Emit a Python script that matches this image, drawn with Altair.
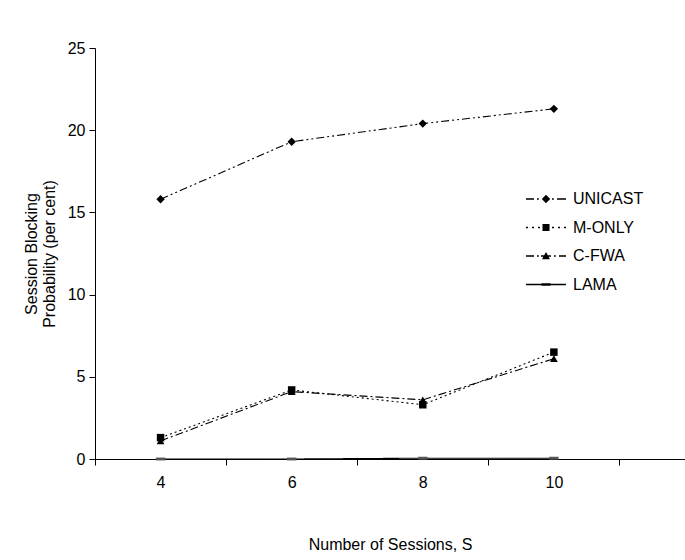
import altair as alt
import pandas as pd

# Session blocking probability (per cent) against number of sessions
sessions = [4, 6, 8, 10]
series_names = ["UNICAST", "M-ONLY", "C-FWA", "LAMA"]
unicast = [15.8, 19.3, 20.4, 21.3]
m_only = [1.3, 4.2, 3.3, 6.5]
c_fwa = [1.1, 4.1, 3.6, 6.1]
lama = [0.0, 0.0, 0.05, 0.05]

values = {"UNICAST": unicast, "M-ONLY": m_only, "C-FWA": c_fwa, "LAMA": lama}
rows = []
for name in series_names:
    for s, v in zip(sessions, values[name]):
        rows.append({"series": name, "S": s, "p": v})
df = pd.DataFrame(rows)

FONT = "Liberation Sans"

# line dash pattern, plot marker and marker size for each series
styles = {
    "UNICAST": dict(dash=[8, 3, 2, 3, 2, 3], shape="diamond", size=70, color="black"),
    "M-ONLY": dict(dash=[2, 3], shape="square", size=56, color="black"),
    "C-FWA": dict(dash=[8, 3, 2, 3], shape="triangle-up", size=60, color="black"),
    "LAMA": dict(dash=[1, 0], shape="M-1,-0.3L1,-0.3L1,0.3L-1,0.3Z", size=90, color="#555555"),
}


def glyph(segments, marker):
    """Legend glyph: dash segments drawn as thin filled bars plus a marker (unit = 10 px)."""
    h = 0.065
    parts = [f"M{a},{-h}L{b},{-h}L{b},{h}L{a},{h}Z" for a, b in segments]
    return "".join(parts) + marker


legend_paths = [
    glyph([(-2, -1.2), (-0.9, -0.72), (0.6, 0.78), (1.1, 2)],
          "M0,-0.42L0.42,0L0,0.42L-0.42,0Z"),
    glyph([(-2, -1.8), (-1.4, -1.2), (-0.8, -0.6), (0.6, 0.8), (1.2, 1.4), (1.8, 2)],
          "M-0.35,-0.35L0.35,-0.35L0.35,0.35L-0.35,0.35Z"),
    glyph([(-2, -1.2), (-0.9, -0.72), (-0.5, 0.5), (0.8, 0.98), (1.3, 2)],
          "M0,-0.4L0.4,0.32L-0.4,0.32Z"),
    glyph([(-2, 2)], "M-0.45,-0.13L0.45,-0.13L0.45,0.13L-0.45,0.13Z"),
]

x_enc = alt.X(
    "S:Q",
    scale=alt.Scale(domain=[3, 12], nice=False, zero=False),
    axis=alt.Axis(
        values=[3, 4, 5, 6, 7, 8, 9, 10, 11],
        labelExpr="datum.value % 2 == 0 ? datum.label : ''",
        tickOpacity={"condition": {"test": "datum.value % 2 == 1", "value": 1}, "value": 0},
        title="Number of Sessions, S",
        grid=False,
        tickSize=6,
        labelPadding=9,
        titlePadding=46,
        labelOverlap=False,
    ),
)
y_enc = alt.Y(
    "p:Q",
    scale=alt.Scale(domain=[0, 25], nice=False),
    axis=alt.Axis(
        values=[0, 5, 10, 15, 20, 25],
        title=["Session Blocking", "Probability (per cent)"],
        grid=False,
        tickSize=6,
        labelPadding=4,
        titlePadding=10,
    ),
)

base = alt.Chart(df)
layers = []
for name in series_names:
    st = styles[name]
    sub = base.transform_filter(alt.datum.series == name)
    layers.append(
        sub.mark_line(color="black", strokeWidth=1.1, strokeDash=st["dash"]).encode(x=x_enc, y=y_enc)
    )
    layers.append(
        sub.mark_point(
            shape=st["shape"], size=st["size"], filled=True, color=st["color"], opacity=1
        ).encode(x=x_enc, y=y_enc)
    )

# invisible layer that carries the legend
legend_layer = base.mark_point(opacity=0, filled=True, color="black").encode(
    x=x_enc,
    y=y_enc,
    shape=alt.Shape(
        "series:N",
        scale=alt.Scale(domain=series_names, range=legend_paths),
        legend=alt.Legend(
            title=None,
            orient="none",
            legendX=440,
            legendY=140,
            padding=0,
            symbolSize=400,
            symbolFillColor="black",
            symbolOpacity=1,
            labelFont=FONT,
            labelFontSize=16,
            labelColor="black",
            labelOffset=16,
            rowPadding=9.5,
        ),
    ),
)
layers.append(legend_layer)

chart = (
    alt.layer(*layers)
    .properties(
        width=590,
        height=411,
        autosize=alt.AutoSizeParams(type="none"),
        padding={"left": 95, "top": 48, "right": 0, "bottom": 101},
    )
    .configure(background="white")
    .configure_view(stroke=None)
    .configure_axis(
        domainColor="black",
        tickColor="black",
        domainWidth=1,
        tickWidth=1,
        labelFont=FONT,
        titleFont=FONT,
        labelFontSize=16,
        titleFontSize=16,
        titleFontWeight="normal",
        labelColor="black",
        titleColor="black",
    )
)

chart.save("out.html", embed_options={"renderer": "svg", "actions": False})
